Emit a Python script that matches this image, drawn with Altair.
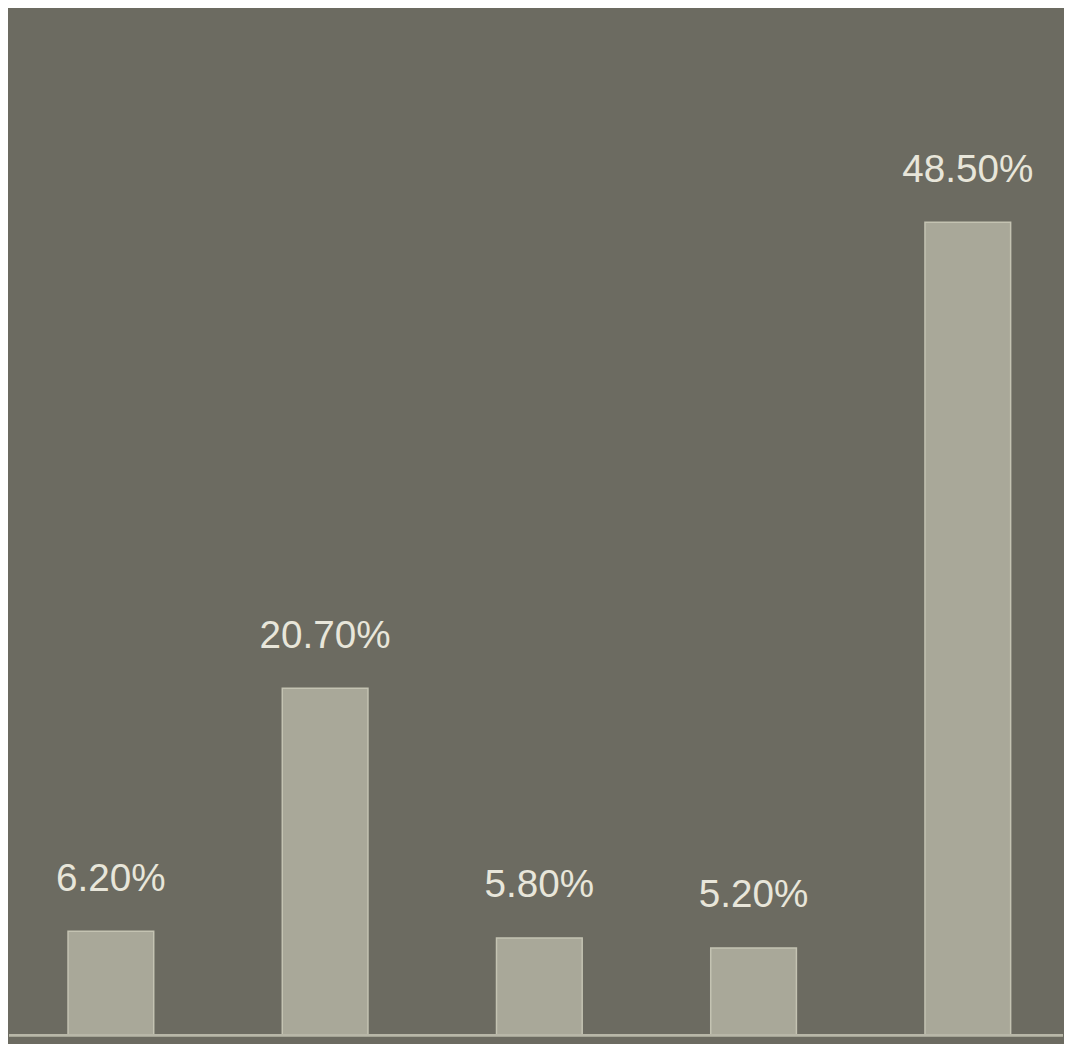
import altair as alt
import pandas as pd

categories = ["1", "2", "3", "4", "5"]
values = [6.2, 20.7, 5.8, 5.2, 48.5]
labels = ["6.20%", "20.70%", "5.80%", "5.20%", "48.50%"]

df = pd.DataFrame({"cat": categories, "value": values, "label": labels})

x = alt.X("cat:N", sort=categories, axis=None,
          scale=alt.Scale(paddingInner=0.6, paddingOuter=0.26, align=0.53))
y = alt.Y("value:Q", axis=None, scale=alt.Scale(domain=[0, 61], nice=False))

base = alt.Chart(df).encode(x=x, y=y)

bars = base.mark_bar(color="#a9a899", stroke="#c4c3b2", strokeWidth=1.5)
text = base.mark_text(dy=-41, baseline="alphabetic", align="center",
                      font="Liberation Sans", fontSize=39, color="#e8e6da").encode(text="label:N")
rule = alt.Chart(df).mark_rule(color="#b8b7a8", strokeWidth=2).encode(y=alt.datum(0))

chart = alt.layer(bars, text, rule).properties(
    width=1064, height=1032, background="#6c6b61",
    padding={"left": 0, "top": 0, "right": 0, "bottom": 3}
).configure_view(stroke=None)

chart.save("out.html", embed_options={"renderer": "svg", "actions": False})
